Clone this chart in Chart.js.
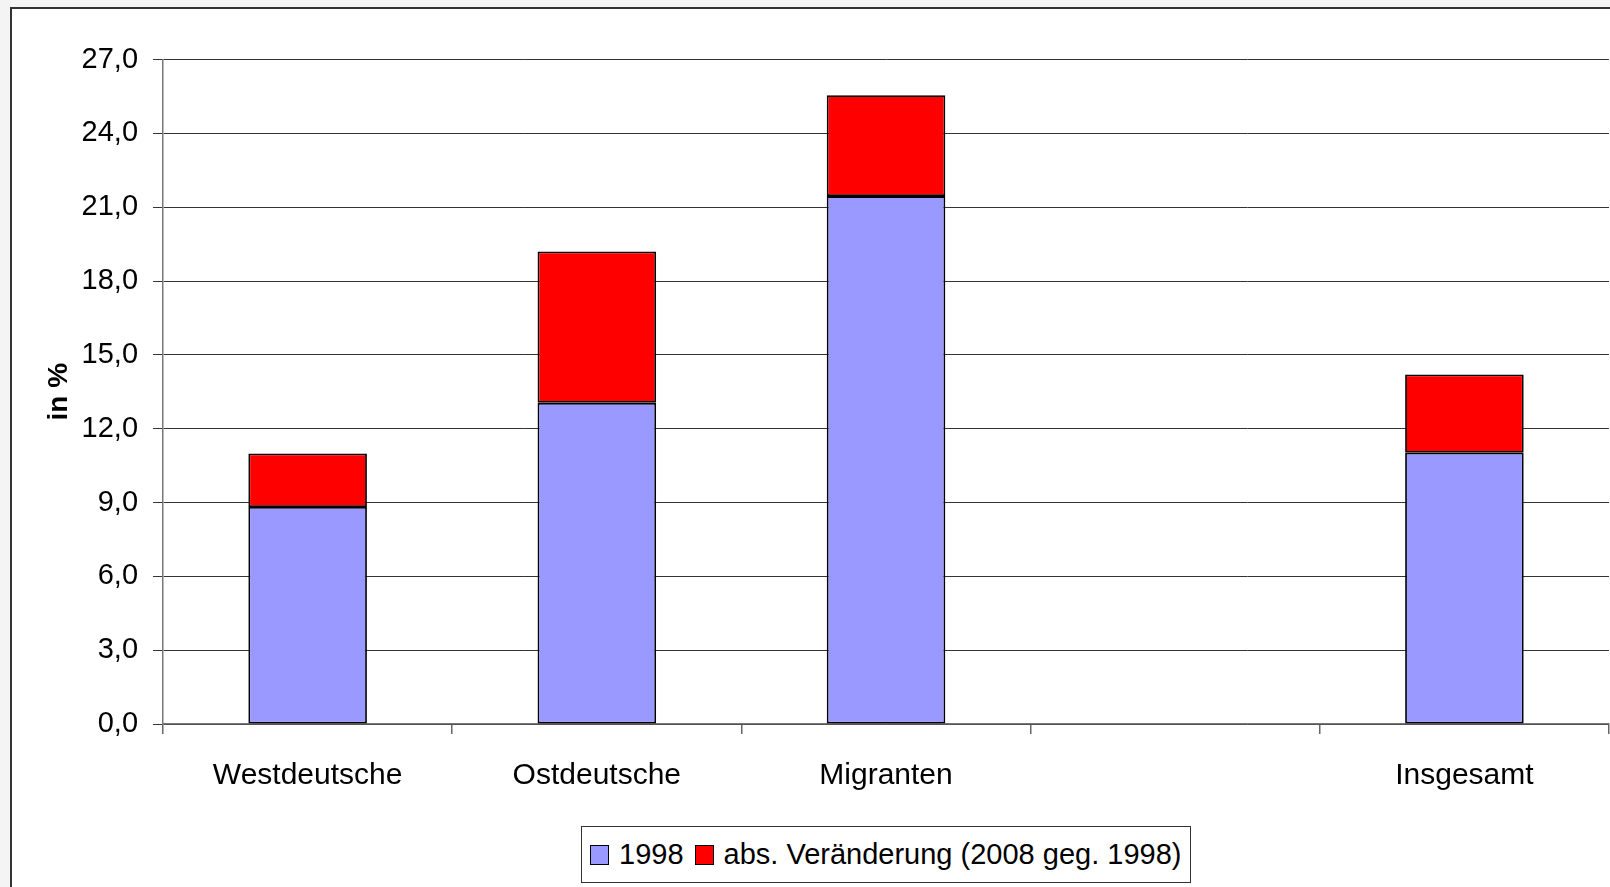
<!DOCTYPE html>
<html>
<head>
<meta charset="utf-8">
<script src="https://cdn.jsdelivr.net/npm/chart.js@4.4.0/dist/chart.umd.min.js"></script>
<style>
    html, body { margin: 0; padding: 0; overflow: hidden; background: #f4f4f4; }
    body { width: 1610px; height: 887px; position: relative; font-family: "Liberation Sans", Arial, sans-serif; }
    #panel { position: absolute; left: 10px; top: 7px; width: 1700px; height: 1000px; background: #fff; border: 2px solid #333; }
    #chartWrap { position: absolute; left: 0; top: 0; width: 1610px; height: 887px; }
    #legend {
        position: absolute; left: 581px; top: 826px; width: 608px; height: 55px;
        border: 1.5px solid #333; background: #fff;
        display: flex; align-items: center; font-size: 29px; color: #000;
        box-sizing: content-box;
    }
    #legend .mark { width: 17px; height: 18px; border: 1.5px solid #000; margin: 0 10px 0 11px; }
    #legend .mark:first-child { margin-left: 8px; }
    #legend .txt { white-space: nowrap; }
</style>
</head>
<body>
<div id="panel"></div>
<div id="chartWrap"><canvas id="barChart" width="1610" height="887"></canvas></div>
<div id="legend"></div>
<script>
document.addEventListener('DOMContentLoaded', () => {
    const categories = ['Westdeutsche', 'Ostdeutsche', 'Migranten', '', 'Insgesamt'];
    const values1998 = [8.82, 13.05, 21.45, null, 11.02];
    const valuesChange = [2.17, 6.15, 4.1, null, 3.18];
    const seriesLabels = ['1998', 'abs. Veränderung (2008 geg. 1998)'];
    const seriesColors = ['#9999ff', '#ff0000'];

    const canvas = document.getElementById('barChart');
    const fontFamily = '"Liberation Sans", Arial, sans-serif';

    const chart = new Chart(canvas, {
        type: 'bar',
        data: {
            labels: categories,
            datasets: [
                { label: seriesLabels[0], data: values1998, backgroundColor: seriesColors[0] },
                { label: seriesLabels[1], data: valuesChange, backgroundColor: seriesColors[1] }
            ]
        },
        options: {
            responsive: false,
            animation: false,
            layout: { padding: { left: 38, top: 59.5, right: 1, bottom: 69 } },
            datasets: {
                bar: {
                    categoryPercentage: 1,
                    barPercentage: 0.41,
                    borderColor: '#000',
                    borderWidth: 1.8,
                    borderSkipped: false
                }
            },
            plugins: {
                legend: { display: false },
                tooltip: { enabled: false }
            },
            scales: {
                x: {
                    stacked: true,
                    grid: { drawOnChartArea: false, color: '#666', lineWidth: 1.5, tickLength: 10 },
                    border: { color: '#777', width: 1.5 },
                    ticks: { font: { family: fontFamily, size: 30 }, color: '#000', padding: 24, maxRotation: 0 }
                },
                y: {
                    stacked: true,
                    min: 0,
                    max: 27,
                    grid: { color: '#333', lineWidth: 1, tickLength: 10 },
                    border: { color: '#777', width: 1.5 },
                    ticks: {
                        stepSize: 3,
                        font: { family: fontFamily, size: 29 },
                        color: '#000',
                        padding: 15,
                        callback: (v) => v.toFixed(1).replace('.', ',')
                    },
                    title: {
                        display: true,
                        text: 'in %',
                        color: '#000',
                        font: { family: fontFamily, size: 28, weight: 'bold' },
                        padding: { top: 4, bottom: -9 }
                    }
                }
            }
        }
    });

    // legend built from the chart's datasets
    const legend = document.getElementById('legend');
    chart.data.datasets.forEach((ds) => {
        const mark = document.createElement('span');
        mark.className = 'mark';
        mark.style.background = ds.backgroundColor;
        const txt = document.createElement('span');
        txt.className = 'txt';
        txt.textContent = ds.label;
        legend.appendChild(mark);
        legend.appendChild(txt);
    });
});
</script>
</body>
</html>
